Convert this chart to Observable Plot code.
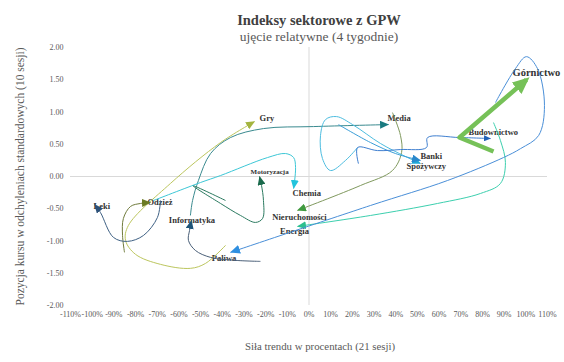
<!DOCTYPE html>
<html><head><meta charset="utf-8">
<script src="https://cdn.jsdelivr.net/npm/d3@7"></script>
<script src="https://cdn.jsdelivr.net/npm/@observablehq/plot@0.6"></script>
<style>
body{margin:0;background:#fff;}
#wrap{width:564px;height:362px;position:relative;overflow:hidden;font-family:"Liberation Serif",serif;background:#fff;}
#title{position:absolute;left:169px;width:300px;top:12px;text-align:center;font-size:14.5px;line-height:16px;font-weight:bold;color:#404040;z-index:2;}
#sub{position:absolute;left:169px;width:300px;top:29px;text-align:center;font-size:13.5px;line-height:15px;color:#595959;z-index:2;}
#chart{position:absolute;left:0;top:40px;z-index:1;}
</style></head>
<body><div id="wrap"><div id="chart"></div><div id="title">Indeksy sektorowe z GPW</div><div id="sub">ujęcie relatywne (4 tygodnie)</div></div>
<script>
// ---- data (x: trend strength in %, y: position in std devs) ----
const xTicks = [-110,-100,-90,-80,-70,-60,-50,-40,-30,-20,-10,0,10,20,30,40,50,60,70,80,90,100,110];
const yTicks = [-2,-1.5,-1,-0.5,0,0.5,1,1.5,2];

const gryX = [-38.5,-47.7,-54.7,-68.5,-80.0,-84.6,-83.3,-63.9,-40.8,-25.1];
const gryY = [-1.068,-1.347,-1.424,-1.362,-1.207,-0.991,-0.759,-0.108,0.526,0.851];
const odziezX = [-85.1,-86.0,-85.6,-82.3,-77.7,-73.1];
const odziezY = [-1.176,-0.913,-0.650,-0.464,-0.418,-0.402];
const lekiX = [-68.5,-69.9,-76.3,-83.7,-90.2,-96.2,-98.9];
const lekiY = [-0.372,-0.635,-0.913,-1.006,-0.944,-0.557,-0.433];
const informatykaX = [-22.4,-33.9,-45.4,-52.4,-55.6,-55.1,-54.2];
const informatykaY = [-1.316,-1.300,-1.254,-1.146,-0.991,-0.836,-0.681];
const mediaX = [-54.7,-53.7,-51.0,-45.4,-36.2,-21.0,2.1,36.7];
const mediaY = [-0.604,-0.372,-0.062,0.356,0.604,0.743,0.774,0.805];
const motoryzacjaX = [-38.5,-53.7,-40.8,-31.6,-24.7,-21.4,-21.0,-21.9,-22.8];
const motoryzacjaY = [-0.372,-0.139,-0.418,-0.604,-0.712,-0.650,-0.372,-0.139,0.0];
const chemiaX = [-71.7,-50.0,-40.8,-19.1,-10.8,-7.1,-6.2,-7.1];
const chemiaY = [-0.372,-0.093,0.015,0.294,0.356,0.294,0.139,-0.186];
const nieruchomosciX = [38.5,42.2,42.7,38.5,23.8,-5.3];
const nieruchomosciY = [0.991,0.635,0.372,0.093,-0.139,-0.526];
const energiaX = [85.1,88.3,90.6,88.3,79.1,59.3,28.4,-5.3];
const energiaY = [0.836,0.557,0.217,-0.108,-0.263,-0.418,-0.604,-0.774];
const paliwaX = [86.0,95.2,100.3,105.4,108.6,105.9,97.6,89.7,63.9,28.4,-36.2];
const paliwaY = [1.146,1.672,1.858,1.672,1.099,0.635,0.433,0.294,-0.062,-0.449,-1.176];
const budownictwoX = [22.8,22.4,31.6,42.2,54.2,54.7,69.4,83.7];
const budownictwoY = [0.20,0.449,0.402,0.418,0.449,0.604,0.604,0.588];
const gornictwoX = [85.1,69.4,100.3];
const gornictwoY = [0.387,0.604,1.50];
const spozywczyX = [22.4,16.8,9.9,6.2,5.3,7.6,12.7,20.1,33.0,44.5,51.4];
const spozywczyY = [0.449,0.248,0.093,0.279,0.635,0.882,0.929,0.805,0.511,0.310,0.201];
const bankiX = [13.6,28.4,39.9,51.4];
const bankiY = [0.805,0.526,0.356,0.248];

const series = [
  {name:"Gry", x:gryX, y:gryY},
  {name:"Odzież", x:odziezX, y:odziezY},
  {name:"Leki", x:lekiX, y:lekiY},
  {name:"Informatyka", x:informatykaX, y:informatykaY},
  {name:"Media", x:mediaX, y:mediaY},
  {name:"Motoryzacja", x:motoryzacjaX, y:motoryzacjaY},
  {name:"Chemia", x:chemiaX, y:chemiaY},
  {name:"Nieruchomości", x:nieruchomosciX, y:nieruchomosciY},
  {name:"Energia", x:energiaX, y:energiaY},
  {name:"Paliwa", x:paliwaX, y:paliwaY},
  {name:"Spożywczy", x:spozywczyX, y:spozywczyY},
  {name:"Banki", x:bankiX, y:bankiY},
  {name:"Budownictwo", x:budownictwoX, y:budownictwoY},
  {name:"Górnictwo", x:gornictwoX, y:gornictwoY}
];

// ---- styles ----
const style = {
  "Gry":          {stroke:"#bcc65e", arrow:"#a4b43f", w:1,   al:9, aw:8, dx:5,  dy:-3,  anchor:"start",  fs:8.5, curve:"catmull-rom"},
  "Odzież":       {stroke:"#707b3c", arrow:"#6b7a22", w:1,   al:9, aw:8, dx:-3, dy:0,   anchor:"start",  fs:8.5, curve:"catmull-rom"},
  "Leki":         {stroke:"#3f6184", arrow:"#2d5279", w:1,   al:9, aw:8, dx:-1, dy:2,   anchor:"start",  fs:8.5, curve:"catmull-rom"},
  "Informatyka":  {stroke:"#4a5f78", arrow:"#1e5478", w:1,   al:9, aw:8, dx:0.5,dy:0,   anchor:"middle", fs:8.5, curve:"catmull-rom"},
  "Media":        {stroke:"#3a8a8f", arrow:"#1a7a80", w:1,   al:9, aw:8, dx:-1, dy:-6,  anchor:"start",  fs:8.5, curve:"catmull-rom"},
  "Motoryzacja":  {stroke:"#2b7a60", arrow:"#1a6a4c", w:1,   al:9, aw:8, dx:-9, dy:-4.5,anchor:"start",  fs:7,   curve:"catmull-rom"},
  "Chemia":       {stroke:"#3cc7d6", arrow:"#22c4dc", w:1,   al:9, aw:8, dx:-1, dy:5,   anchor:"start",  fs:8.5, curve:"catmull-rom"},
  "Nieruchomości":{stroke:"#80995e", arrow:"#3f9a3f", w:1,   al:9, aw:8, dx:2,  dy:7,   anchor:"middle", fs:8.5, curve:"catmull-rom"},
  "Energia":      {stroke:"#3ccfae", arrow:"#2bbf8e", w:1,   al:9, aw:8, dx:-3, dy:5,   anchor:"middle", fs:8.5, curve:"catmull-rom"},
  "Paliwa":       {stroke:"#4a8fd8", arrow:"#2f8fe0", w:1,   al:10,aw:9, dx:-6.5,dy:5.5,anchor:"middle", fs:8.5, curve:"catmull-rom"},
  "Spożywczy":    {stroke:"#4dbde0", arrow:"#1fa8d8", w:1,   al:9, aw:8, dx:-14,dy:3,   anchor:"start",  fs:8.5, curve:"catmull-rom"},
  "Banki":        {stroke:"#3a9ed8", arrow:"#2a88cc", w:1,   al:9, aw:8, dx:0,  dy:-4,  anchor:"start",  fs:8.5, curve:"catmull-rom"},
  "Budownictwo":  {stroke:"#3f7fd0", arrow:"#2060b8", w:1,   al:7, aw:6, dx:-22,dy:-6,  anchor:"start",  fs:8.5, curve:"catmull-rom"},
  "Górnictwo":    {stroke:"#76c158", arrow:"#76c158", w:4.5, al:17,aw:15,dx:-14,dy:-7,  anchor:"start",  fs:10.5, curve:"linear"}
};

function triMarker(len, wid, fill, back) {
  return (color, context) => {
    const m = d3.create("svg:marker")
      .attr("viewBox", `${-len} ${-wid/2} ${len} ${wid}`)
      .attr("markerWidth", len).attr("markerHeight", wid)
      .attr("markerUnits", "userSpaceOnUse")
      .attr("refX", -back).attr("refY", 0)
      .attr("orient", "auto");
    m.append("path").attr("d", `M${-len},${-wid/2}L0,0L${-len},${wid/2}Z`).attr("fill", fill).attr("stroke", "none");
    return m.node();
  };
}

const labelMarks = series.map(s => {
  const st = style[s.name];
  const n = s.x.length - 1;
  return Plot.text([{x: s.x[n], y: s.y[n], t: s.name}], {
    x: "x", y: "y", text: "t", dx: st.dx, dy: st.dy, textAnchor: st.anchor, lineAnchor: "middle",
    fontSize: st.fs, fontWeight: "bold", fill: "#333333", fontFamily: "Liberation Serif"
  });
});

const lineMarks = series.map(s => {
  const st = style[s.name];
  const pts = s.x.map((v, i) => ({x: v, y: s.y[i]}));
  return Plot.line(pts, {
    x: "x", y: "y", curve: st.curve, stroke: st.stroke, strokeWidth: st.w,
    strokeLinecap: "butt", strokeLinejoin: "round",
    markerEnd: triMarker(st.al, st.aw, st.arrow, st.w > 2 ? 4 : 0.5)
  });
});

const chart = Plot.plot({
  width: 564, height: 322,
  marginLeft: 70, marginRight: 17, marginTop: 7, marginBottom: 57,
  style: {fontFamily: "Liberation Serif", fontSize: "8px", color: "#595959", background: "none", overflow: "visible"},
  x: {domain: [-110, 110]},
  y: {domain: [-2, 2]},
  marks: [
    Plot.ruleY([0], {stroke: "#d9d9d9", strokeWidth: 1}),
    Plot.ruleX([0], {stroke: "#d9d9d9", strokeWidth: 1}),
    Plot.axisX({ticks: xTicks, tickFormat: d => d + "%", tickSize: 0, tickPadding: 6, label: null, fontSize: 8}),
    Plot.axisY({ticks: yTicks, tickFormat: d => d.toFixed(2), tickSize: 0, tickPadding: 7, label: null, fontSize: 8}),
    Plot.text(["Siła trendu w procentach (21 sesji)"], {frameAnchor: "bottom", textAnchor: "middle", dx: 11, dy: 44, fontSize: 10.8, fill: "#595959", fontFamily: "Liberation Serif"}),
    Plot.text(["Pozycja kursu w odchyleniach standardowych (10 sesji)"], {frameAnchor: "left", textAnchor: "middle", lineAnchor: "middle", rotate: -90, dx: -50, dy: 0, fontSize: 11.5, fill: "#595959", fontFamily: "Liberation Serif"}),
    ...labelMarks,
    ...lineMarks
  ]
});
document.getElementById("chart").appendChild(chart);
</script>
</body></html>
